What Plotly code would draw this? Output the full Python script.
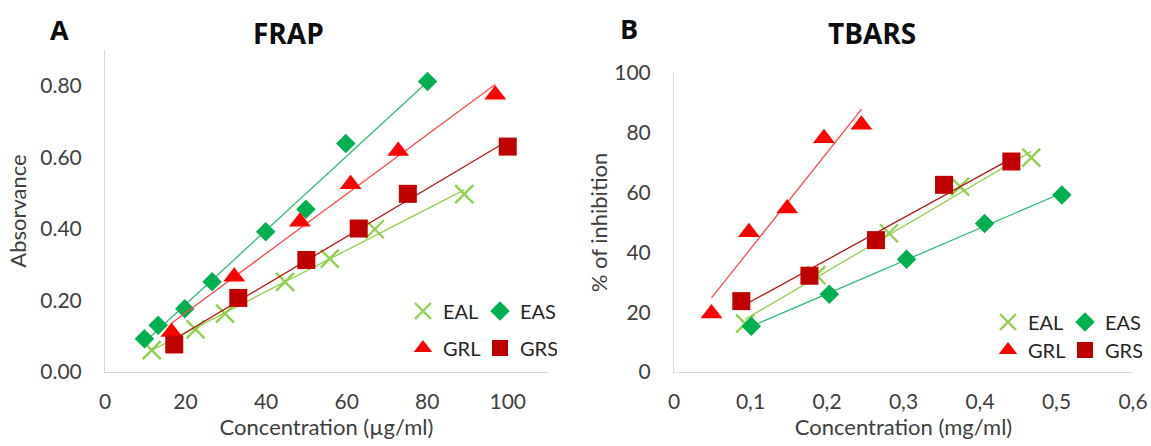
import numpy as np
import plotly.graph_objects as go

# ---------------- data ----------------
series_names = ["EAL", "EAS", "GRL", "GRS"]

# FRAP (Absorbance vs concentration, ug/ml)
frap_eal_x = [11.6, 22.5, 29.8, 44.7, 55.8, 67.0, 89.2]
frap_eal_y = [0.061, 0.119, 0.163, 0.252, 0.317, 0.399, 0.497]
frap_eas_x = [9.8, 13.2, 19.8, 26.6, 39.9, 49.9, 59.8, 80.1]
frap_eas_y = [0.093, 0.131, 0.177, 0.252, 0.392, 0.455, 0.639, 0.812]
frap_grl_x = [16.5, 32.1, 48.4, 61.0, 72.8, 96.9]
frap_grl_y = [0.112, 0.266, 0.420, 0.525, 0.618, 0.775]
frap_grs_x = [17.2, 33.1, 50.0, 63.0, 75.2, 100.0]
frap_grs_y = [0.077, 0.207, 0.313, 0.401, 0.498, 0.630]

# TBARS (% of inhibition vs concentration, mg/ml)
tbars_eal_x = [0.093, 0.186, 0.281, 0.374, 0.467]
tbars_eal_y = [16.2, 32.4, 46.4, 62.0, 71.7]
tbars_eas_x = [0.101, 0.203, 0.304, 0.406, 0.507]
tbars_eas_y = [15.3, 26.0, 37.7, 49.7, 59.2]
tbars_grl_x = [0.049, 0.098, 0.148, 0.196, 0.245]
tbars_grl_y = [19.6, 46.7, 54.7, 78.2, 82.7]
tbars_grs_x = [0.088, 0.177, 0.264, 0.353, 0.441]
tbars_grs_y = [23.7, 32.2, 44.1, 62.6, 70.4]

frap_x_ticks = [0, 20, 40, 60, 80, 100]
frap_y_ticks = [0.0, 0.2, 0.4, 0.6, 0.8]
frap_y_ticktext = ["0.00", "0.20", "0.40", "0.60", "0.80"]
tbars_x_ticks = [0, 0.1, 0.2, 0.3, 0.4, 0.5, 0.6]
tbars_x_ticktext = ["0", "0,1", "0,2", "0,3", "0,4", "0,5", "0,6"]
tbars_y_ticks = [0, 20, 40, 60, 80, 100]

# ---------------- styles ----------------
FONT = "Lato"
TXT = "#404040"
styles = {
    "EAL": dict(symbol="x-thin", size=18, color="#92D050", line=dict(width=2.4, color="#92D050")),
    "EAS": dict(symbol="diamond", size=15, color="#00B050", line=dict(width=0)),
    "GRL": dict(symbol="triangle-up", size=19, color="#FF0000", line=dict(width=0)),
    "GRS": dict(symbol="square", size=18, color="#C00000", line=dict(width=0)),
}
line_colors = {"EAL": "#92D050", "EAS": "#33BA78", "GRL": "#FF4B4B", "GRS": "#B01818"}

fig = go.Figure()


def add_series(name, xs, ys, xa, ya, legend):
    xs = np.asarray(xs, float)
    ys = np.asarray(ys, float)
    slope, icpt = np.polyfit(xs, ys, 1)
    lx = np.array([xs.min(), xs.max()])
    fig.add_trace(go.Scatter(
        x=lx, y=slope * lx + icpt, mode="lines", xaxis=xa, yaxis=ya,
        line=dict(color=line_colors[name], width=1.3), showlegend=False, hoverinfo="skip"))
    fig.add_trace(go.Scatter(
        x=xs, y=ys, mode="markers", name=name, xaxis=xa, yaxis=ya,
        marker=styles[name], legend=legend, showlegend=True))


add_series("EAL", frap_eal_x, frap_eal_y, "x", "y", "legend")
add_series("EAS", frap_eas_x, frap_eas_y, "x", "y", "legend")
add_series("GRL", frap_grl_x, frap_grl_y, "x", "y", "legend2")
add_series("GRS", frap_grs_x, frap_grs_y, "x", "y", "legend2")
add_series("EAL", tbars_eal_x, tbars_eal_y, "x2", "y2", "legend3")
add_series("EAS", tbars_eas_x, tbars_eas_y, "x2", "y2", "legend3")
add_series("GRL", tbars_grl_x, tbars_grl_y, "x2", "y2", "legend4")
add_series("GRS", tbars_grs_x, tbars_grs_y, "x2", "y2", "legend4")

W, H = 1151, 446


def px_x(p):
    return p / W


def px_y(p):
    return 1 - p / H


axis_common = dict(
    showgrid=False, zeroline=False, showline=True, linecolor="#D9D9D9", linewidth=1,
    ticks="outside", tickcolor="rgba(0,0,0,0)", automargin=False,
    tickfont=dict(family=FONT, size=21, color=TXT),
    title_font=dict(family=FONT, size=22, color=TXT),
)


def legend_cfg(xp, yp):
    return dict(
        orientation="h", x=px_x(xp), y=px_y(yp), xanchor="left", yanchor="middle",
        bgcolor="rgba(0,0,0,0)", font=dict(family=FONT, size=20, color="#262626"),
        entrywidth=32, entrywidthmode="pixels", itemsizing="trace", tracegroupgap=0,
    )


fig.update_layout(
    width=W, height=H, margin=dict(l=0, r=0, t=0, b=0, autoexpand=False),
    paper_bgcolor="white", plot_bgcolor="white",
    xaxis=dict(axis_common, domain=[px_x(105), px_x(548)], range=[0, 110],
               tickvals=frap_x_ticks, ticklen=11, anchor="y",
               title=dict(text="Concentration (µg/ml)", standoff=4)),
    yaxis=dict(axis_common, domain=[px_y(372), px_y(50)], range=[0, 0.9],
               tickvals=frap_y_ticks, ticktext=frap_y_ticktext, ticklen=18, anchor="x",
               title=dict(text="Absorvance", standoff=7)),
    xaxis2=dict(axis_common, domain=[px_x(674), px_x(1133)], range=[0, 0.6],
                tickvals=tbars_x_ticks, ticktext=tbars_x_ticktext, ticklen=11, anchor="y2",
                title=dict(text="Concentration (mg/ml)", standoff=4)),
    yaxis2=dict(axis_common, domain=[px_y(372), px_y(73)], range=[0, 100],
                tickvals=tbars_y_ticks, ticklen=18, anchor="x2",
                title=dict(text="% of inhibition", standoff=0)),
    legend=legend_cfg(403, 311),
    legend2=legend_cfg(403, 348),
    legend3=legend_cfg(988, 322),
    legend4=legend_cfg(988, 350),
    showlegend=True,
)

annots = [
    dict(text="<b>A</b>", x=px_x(60), y=px_y(30), size=27),
    dict(text="<b>FRAP</b>", x=px_x(288), y=px_y(33), size=28),
    dict(text="<b>B</b>", x=px_x(629), y=px_y(29), size=27),
    dict(text="<b>TBARS</b>", x=px_x(872), y=px_y(33), size=28),
]
for a in annots:
    fig.add_annotation(text=a["text"], x=a["x"], y=a["y"], xref="paper", yref="paper",
                       xanchor="center", yanchor="middle", showarrow=False,
                       font=dict(family="Open Sans", size=a["size"], color="#0D0D0D"))

fig.write_html("out.html")
